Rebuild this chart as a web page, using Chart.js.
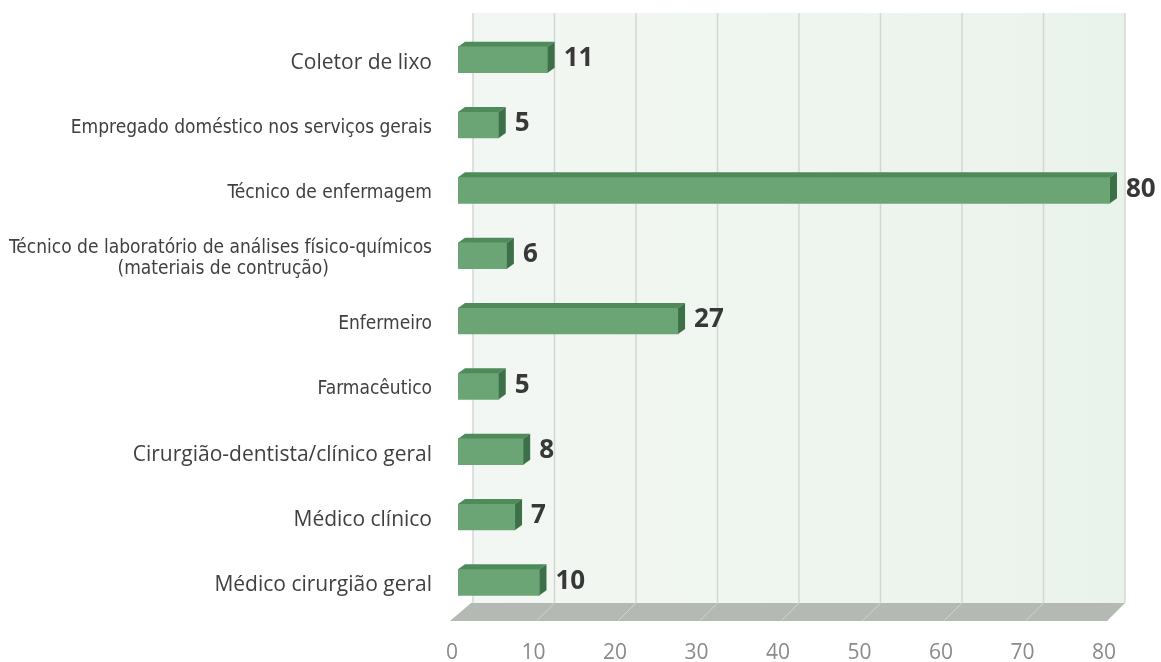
<!DOCTYPE html>
<html>
<head>
<meta charset="utf-8">
<script src="https://cdn.jsdelivr.net/npm/chart.js@4"></script>
<style>
  html, body { margin: 0; background: #fff; }
  #wrap { width: 1161px; height: 662px; }
</style>
</head>
<body>
<div id="wrap"><canvas id="myChart"></canvas></div>
<script>
const categories = [
  "Coletor de lixo",
  "Empregado doméstico nos serviços gerais",
  "Técnico de enfermagem",
  ["Técnico de laboratório de análises físico-químicos", "(materiais de contrução)"],
  "Enfermeiro",
  "Farmacêutico",
  "Cirurgião-dentista/clínico geral",
  "Médico clínico",
  "Médico cirurgião geral"
];
const values = [11, 5, 80, 6, 27, 5, 8, 7, 10];
const xTicks = [0, 10, 20, 30, 40, 50, 60, 70, 80];

// labels that use the narrow font in the original
const narrowIdx = [1, 2, 3, 4, 5];

const WALL_DX = 15;   // back wall offset
const DEPTH_X = 7, DEPTH_Y = 5;  // bar depth

const measureCtx = document.createElement('canvas').getContext('2d');

// centre the lines of a multi-line label (Chart.js right-aligns each line)
function centerLines(lines, font) {
  measureCtx.font = font;
  const w = lines.map(l => measureCtx.measureText(l).width);
  const maxW = Math.max(...w);
  const sp = measureCtx.measureText('\u00a0').width;
  return lines.map((l, i) => l + '\u00a0'.repeat(Math.round((maxW - w[i]) / 2 / sp)));
}

const backdrop = {
  id: 'backdrop',
  beforeDatasetsDraw(chart) {
    const {ctx, chartArea, scales: {x}} = chart;
    const left = x.getPixelForValue(xTicks[0]) + WALL_DX;
    const right = x.getPixelForValue(xTicks[xTicks.length - 1]) + WALL_DX;
    const top = chartArea.top - 14;
    const floorTop = chartArea.bottom - 12;
    const floorBot = floorTop + 18;
    ctx.save();
    // back wall
    const g = ctx.createLinearGradient(left, 0, right, 0);
    g.addColorStop(0, '#f3f7f3');
    g.addColorStop(1, '#eaf3eb');
    ctx.fillStyle = g;
    ctx.fillRect(left, top, right - left, floorTop - top);
    // grid lines on the wall
    ctx.strokeStyle = '#d3d7d3';
    ctx.lineWidth = 1.5;
    xTicks.forEach(v => {
      const px = x.getPixelForValue(v) + WALL_DX;
      ctx.beginPath();
      ctx.moveTo(px, top);
      ctx.lineTo(px, floorTop);
      ctx.stroke();
    });
    // floor
    const slant = floorBot - floorTop;
    ctx.fillStyle = '#b4b9b4';
    ctx.beginPath();
    ctx.moveTo(left - 2, floorTop);
    ctx.lineTo(right, floorTop);
    ctx.lineTo(right - slant, floorBot);
    ctx.lineTo(left - 2 - slant - 3, floorBot);
    ctx.closePath();
    ctx.fill();
    ctx.strokeStyle = '#d2d6d2';
    ctx.lineWidth = 1;
    xTicks.slice(1, -1).forEach(v => {
      const px = x.getPixelForValue(v) + WALL_DX;
      ctx.beginPath();
      ctx.moveTo(px, floorTop);
      ctx.lineTo(px - slant, floorBot);
      ctx.stroke();
    });
    ctx.restore();
  }
};

const bar3d = {
  id: 'bar3d',
  afterDatasetsDraw(chart) {
    const {ctx} = chart;
    const meta = chart.getDatasetMeta(0);
    ctx.save();
    meta.data.forEach((el, i) => {
      const t = el.y - el.height / 2, b = el.y + el.height / 2;
      // top face
      ctx.fillStyle = '#4f8a5b';
      ctx.beginPath();
      ctx.moveTo(el.base, t);
      ctx.lineTo(el.base + DEPTH_X, t - DEPTH_Y);
      ctx.lineTo(el.x + DEPTH_X, t - DEPTH_Y);
      ctx.lineTo(el.x, t);
      ctx.closePath();
      ctx.fill();
      // side face
      ctx.fillStyle = '#3d7048';
      ctx.beginPath();
      ctx.moveTo(el.x, t);
      ctx.lineTo(el.x + DEPTH_X, t - DEPTH_Y);
      ctx.lineTo(el.x + DEPTH_X, b - DEPTH_Y);
      ctx.lineTo(el.x, b);
      ctx.closePath();
      ctx.fill();
      // value label
      ctx.fillStyle = '#383838';
      ctx.font = 'bold 26px "Open Sans"';
      ctx.textAlign = 'left';
      ctx.textBaseline = 'middle';
      ctx.fillText(values[i], el.x + 16, el.y - 1);
    });
    ctx.restore();
  }
};

const narrowFont = {family: '"DejaVu Sans Condensed"', size: 19, lineHeight: 1.1};
const wideFont = {family: '"Open Sans"', size: 21, lineHeight: 1.1};

const ctx = document.getElementById('myChart');

new Chart(ctx, {
  type: 'bar',
  data: {
    labels: categories,
    datasets: [{
      data: values,
      backgroundColor: '#6ba475',
      borderWidth: 0,
      barThickness: 26
    }]
  },
  options: {
    indexAxis: 'y',
    responsive: true,
    maintainAspectRatio: false,
    animation: false,
    layout: {padding: {top: 27, right: 51, left: 0, bottom: 0}},
    plugins: {
      legend: {display: false},
      tooltip: {enabled: false}
    },
    scales: {
      x: {
        min: 0,
        max: 80,
        grid: {display: false, drawTicks: false},
        border: {display: false},
        afterFit(scale) { scale.height = 47; },
        ticks: {
          stepSize: 10,
          padding: 25,
          labelOffset: -6,
          color: '#8a8a8a',
          font: {family: '"Open Sans"', size: 21}
        }
      },
      y: {
        grid: {display: false, drawTicks: false},
        border: {display: false},
        afterFit(scale) {
          scale.width = 458;
          scale.paddingTop = 0;
          scale.paddingBottom = 0;
        },
        ticks: {
          padding: 26,
          labelOffset: 3,
          color: '#404040',
          callback(value, index) {
            const lab = this.getLabelForValue(value);
            return Array.isArray(lab)
              ? centerLines(lab, narrowFont.size + 'px ' + narrowFont.family)
              : lab;
          },
          font: c => narrowIdx.includes(c.index) ? narrowFont : wideFont
        }
      }
    }
  },
  plugins: [backdrop, bar3d]
});
</script>
</body>
</html>
